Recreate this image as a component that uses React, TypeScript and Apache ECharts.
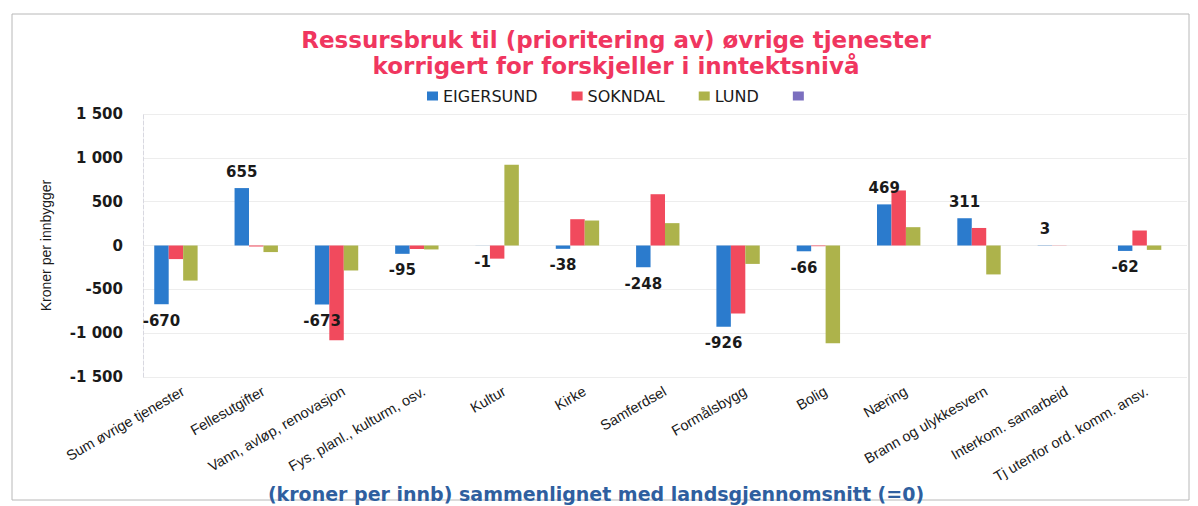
import React, { useEffect, useRef } from "react";
import * as echarts from "echarts";

const categories = [
  "Sum øvrige tjenester",
  "Fellesutgifter",
  "Vann, avløp, renovasjon",
  "Fys. planl., kulturm, osv.",
  "Kultur",
  "Kirke",
  "Samferdsel",
  "Formålsbygg",
  "Bolig",
  "Næring",
  "Brann og ulykkesvern",
  "Interkom. samarbeid",
  "Tj utenfor ord. komm. ansv.",
];
const eigersund = [-670, 655, -673, -95, -1, -38, -248, -926, -66, 469, 311, 3, -62];
const sokndal = [-155, -10, -1080, -40, -150, 300, 585, -775, -8, 628, 200, 2, 171];
const lund = [-400, -75, -285, -45, 920, 285, 255, -210, -1115, 209, -330, 0, -50];
const extra = categories.map(() => null);
const seriesNames = ["EIGERSUND", "SOKNDAL", "LUND", " "];
const colors = ["#2b7bcd", "#f14a5d", "#adb34b", "#7b6fbf"];
const yTicks = { min: -1500, max: 1500, interval: 500 };

const fmt = (v: number) => {
  const s = Math.abs(v).toString().replace(/\B(?=(\d{3})+(?!\d))/g, " ");
  return (v < 0 ? "-" : "") + s;
};

export default function App() {
  const ref = useRef<HTMLDivElement>(null);
  useEffect(() => {
    const chart = echarts.init(ref.current!, null, { renderer: "svg" });
    chart.setOption({
      animation: false,
      backgroundColor: "#ffffff",
      color: colors,
      title: {
        text: "Ressursbruk til (prioritering av) øvrige tjenester\nkorrigert for forskjeller i inntektsnivå",
        left: 611,
        textAlign: "center",
        top: 22,
        textStyle: {
          fontFamily: "DejaVu Sans",
          fontWeight: "bold",
          fontSize: 23,
          lineHeight: 26,
          color: "#f0365f",
        },
      },
      legend: {
        data: seriesNames,
        top: 83,
        left: 422,
        itemWidth: 11,
        itemHeight: 9,
        itemGap: 34,
        icon: "rect",
        textStyle: { fontFamily: "DejaVu Sans", fontSize: 16, color: "#1a1a1a" },
      },
      grid: { left: 143, right: 11, top: 114, bottom: 129, containLabel: false },
      xAxis: {
        type: "category",
        data: categories,
        axisLine: { show: false },
        axisTick: { show: false },
        axisLabel: {
          rotate: 30,
          interval: 0,
          margin: 13,
          fontFamily: "Liberation Sans",
          fontSize: 14.5,
          color: "#1a1a1a",
        },
      },
      yAxis: {
        type: "value",
        min: yTicks.min,
        max: yTicks.max,
        interval: yTicks.interval,
        name: "Kroner per innbygger",
        nameLocation: "middle",
        nameGap: 90,
        nameTextStyle: { fontFamily: "Liberation Sans Narrow, Liberation Sans", fontSize: 14, color: "#1a1a1a" },
        axisLine: { show: true, lineStyle: { color: "#d8d8e0", type: "dashed" } },
        axisTick: { show: false },
        splitLine: { lineStyle: { color: "#ededed" } },
        axisLabel: {
          formatter: (v: number) => fmt(v),
          fontFamily: "DejaVu Sans",
          fontWeight: "bold",
          fontSize: 15,
          color: "#1a1a1a",
          margin: 20,
        },
      },
      graphic: [
        {
          type: "rect",
          shape: { x: 12, y: 14, width: 1177, height: 486 },
          style: { fill: "none", stroke: "#b8b8b8", lineWidth: 1 },
          silent: true,
        },
        {
          type: "text",
          x: 596,
          y: 494,
          style: {
            text: "(kroner per innb) sammenlignet med landsgjennomsnitt (=0)",
            fontFamily: "DejaVu Sans",
            fontWeight: "bold",
            fontSize: 19,
            fill: "#2f5f9f",
            textAlign: "center",
            textVerticalAlign: "middle",
          },
        },
      ],
      series: [
        {
          name: seriesNames[0],
          type: "bar",
          barGap: "0%",
          barCategoryGap: "28%",
          data: eigersund.map((v) => ({
            value: v,
            label: { position: v < 0 ? "bottom" : "top" },
          })),
          label: {
            show: true,
            formatter: (p: any) => fmt(p.value),
            fontFamily: "DejaVu Sans",
            fontWeight: "bold",
            fontSize: 15,
            color: "#1a1a1a",
            distance: 9,
          },
        },
        { name: seriesNames[1], type: "bar", barGap: "0%", data: sokndal },
        { name: seriesNames[2], type: "bar", barGap: "0%", data: lund },
        { name: seriesNames[3], type: "bar", barGap: "0%", data: extra },
      ],
    });
    return () => chart.dispose();
  }, []);
  return (
    <div
      ref={ref}
      style={{ position: "absolute", left: 0, top: 0, width: 1198, height: 506 }}
    />
  );
}
